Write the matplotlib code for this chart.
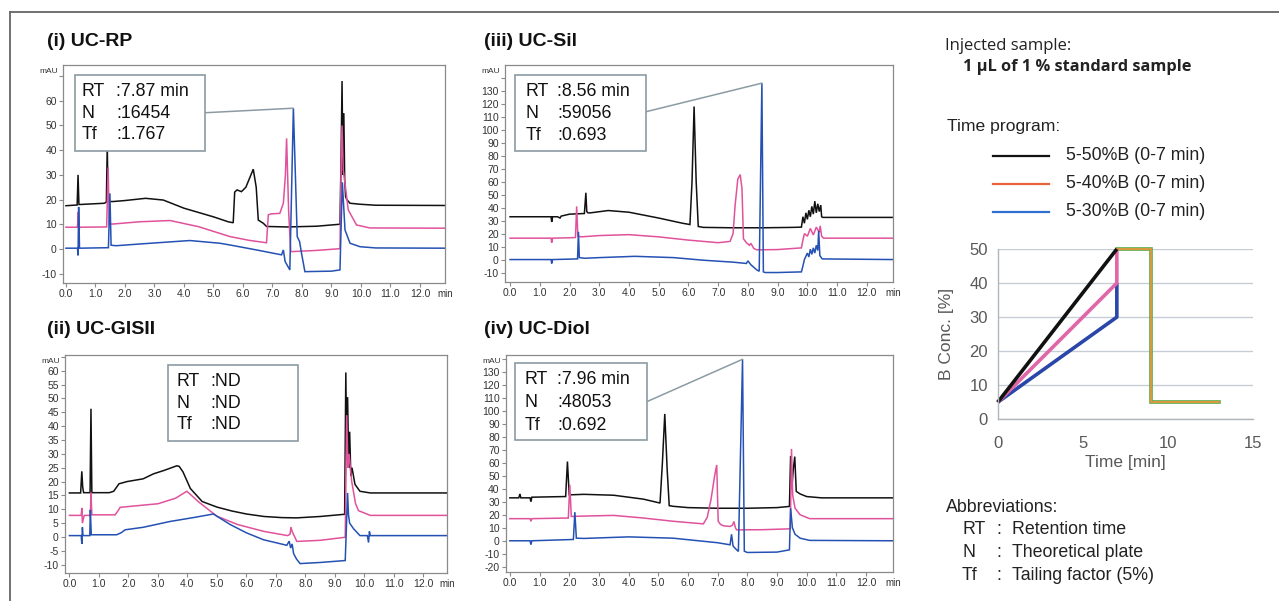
import matplotlib
matplotlib.use("Agg")
import matplotlib.pyplot as plt
from matplotlib.lines import Line2D
from matplotlib.patches import Rectangle
import numpy as np

plt.rcParams['font.family'] = ['Liberation Sans', 'DejaVu Sans']
plt.rcParams['axes.unicode_minus'] = False

W, H = 1279, 601

# ---------------- DATA ----------------
# (i) UC-RP
rp_t_black = [0.0, 0.38, 0.41, 0.44, 0.48, 1.30, 1.37, 1.40, 1.43, 1.46, 1.6, 2.0, 2.7, 3.3, 4.0, 5.0, 5.5, 5.67, 5.72, 5.80, 5.95, 6.1, 6.35, 6.45, 6.52, 6.69, 6.8, 7.5, 8.5, 9.29, 9.33, 9.36, 9.39, 9.42, 9.45, 9.48, 9.52, 9.63, 9.97, 10.5, 12.85]
rp_v_black = [17.5, 17.8, 30.0, 18.0, 18.0, 18.5, 19.0, 42.0, 19.5, 19.2, 19.2, 19.6, 20.5, 19.8, 16.5, 13.0, 11.0, 10.6, 23.0, 23.9, 23.2, 25.0, 32.3, 25.0, 11.7, 10.4, 9.1, 8.9, 9.2, 10.0, 40.0, 68.0, 30.0, 55.0, 28.0, 21.2, 20.0, 18.5, 18.1, 17.7, 17.6]
rp_t_pink = [0.0, 0.39, 0.42, 0.44, 0.48, 1.38, 1.43, 1.47, 1.6, 2.5, 3.53, 4.5, 5.56, 6.2, 6.8, 6.86, 6.95, 7.25, 7.37, 7.44, 7.48, 7.55, 7.62, 8.5, 9.29, 9.33, 9.36, 9.40, 9.46, 9.57, 9.85, 10.3, 12.85]
rp_v_pink = [8.8, 8.8, 15.0, 8.0, 8.8, 8.9, 33.0, 10.1, 10.1, 11.0, 11.5, 9.0, 5.0, 3.5, 2.5, 13.8, 14.2, 14.4, 18.5, 30.0, 44.8, 15.0, -1.1, -0.6, 0.1, 35.0, 50.0, 32.0, 26.6, 15.8, 9.7, 8.5, 8.4]
rp_t_blue = [0.0, 0.39, 0.41, 0.43, 0.46, 1.44, 1.49, 1.53, 1.7, 2.5, 4.2, 5.22, 5.56, 6.5, 7.31, 7.37, 7.43, 7.59, 7.71, 7.84, 7.92, 7.99, 8.1, 9.0, 9.29, 9.33, 9.37, 9.46, 9.63, 9.97, 10.5, 12.85]
rp_v_blue = [0.3, 0.3, -2.6, 17.0, 0.3, 0.5, 22.5, 1.5, 1.3, 2.0, 3.4, 2.3, 1.6, -0.5, -2.4, -0.4, -5.1, -8.5, 57.0, 5.0, 3.0, -2.0, -9.2, -9.0, -8.5, 10.0, 27.0, 7.7, 2.3, 0.9, 0.4, 0.3]

# (iii) UC-Sil
sil_t_black = [0.0, 1.38, 1.40, 1.43, 1.6, 1.68, 1.72, 2.0, 2.5, 2.55, 2.58, 2.62, 2.7, 3.3, 4.0, 5.0, 5.8, 6.05, 6.12, 6.19, 6.26, 6.33, 6.5, 7.5, 8.5, 9.5, 9.8, 9.85, 9.9, 9.95, 10.0, 10.05, 10.1, 10.15, 10.2, 10.25, 10.3, 10.35, 10.4, 10.45, 10.48, 10.52, 11.0, 12.9]
sil_v_black = [33.0, 33.0, 29.0, 33.0, 33.0, 32.0, 33.5, 35.0, 35.5, 51.5, 37.0, 36.0, 36.0, 37.8, 36.5, 32.0, 28.0, 27.0, 60.0, 118.0, 60.0, 25.5, 24.8, 24.5, 24.5, 24.8, 25.0, 33.0, 28.0, 36.0, 31.0, 38.0, 33.0, 41.0, 35.0, 45.0, 36.0, 43.0, 37.0, 42.0, 33.0, 32.5, 32.5, 32.5]
sil_t_pink = [0.0, 1.38, 1.40, 1.43, 2.0, 2.2, 2.24, 2.28, 2.4, 3.0, 4.0, 5.0, 6.0, 7.0, 7.4, 7.5, 7.57, 7.66, 7.74, 7.8, 7.85, 7.95, 8.05, 8.1, 8.2, 8.3, 9.0, 9.8, 9.85, 9.9, 10.0, 10.1, 10.2, 10.3, 10.4, 10.43, 10.48, 10.55, 12.9]
sil_v_pink = [16.5, 16.5, 13.0, 16.5, 16.8, 17.0, 41.0, 18.0, 17.5, 18.5, 19.2, 17.5, 15.0, 13.0, 14.0, 20.0, 42.0, 62.0, 65.5, 55.0, 16.0, 13.0, 11.0, 12.5, 8.5, 7.5, 7.7, 9.0, 15.0, 20.0, 18.0, 24.0, 19.0, 25.0, 21.0, 26.0, 18.0, 16.5, 16.5]
sil_t_blue = [0.0, 1.38, 1.40, 1.43, 2.27, 2.30, 2.33, 2.5, 3.0, 4.2, 5.5, 6.5, 7.5, 7.95, 8.0, 8.05, 8.1, 8.2, 8.3, 8.38, 8.47, 8.52, 8.58, 9.0, 9.8, 9.85, 9.9, 10.0, 10.05, 10.1, 10.15, 10.2, 10.25, 10.3, 10.35, 10.38, 10.42, 10.5, 12.9]
sil_v_blue = [0.0, 0.0, -3.0, 0.0, 0.5, 21.4, 1.5, 1.0, 1.5, 2.5, 1.5, -0.5, -2.0, -3.0, -1.0, -2.5, -4.0, -6.0, -8.0, -9.0, 136.0, -9.5, -10.0, -10.0, -9.5, -5.0, 0.0, 5.0, 2.0, 8.0, 4.0, 9.0, 5.0, 11.0, 7.0, 22.0, 3.0, 0.5, 0.0]

# (ii) UC-GISII
gis_t_black = [0.0, 0.38, 0.42, 0.45, 0.48, 0.52, 0.70, 0.73, 0.76, 1.35, 1.5, 1.6, 1.68, 1.95, 2.5, 2.85, 3.2, 3.64, 3.72, 3.85, 4.1, 4.5, 5.0, 5.5, 6.0, 6.6, 7.2, 7.7, 8.5, 9.33, 9.37, 9.40, 9.43, 9.47, 9.50, 9.54, 9.58, 9.68, 9.85, 10.2, 12.8]
gis_v_black = [15.9, 15.9, 23.7, 18.0, 16.0, 16.0, 16.0, 46.3, 16.0, 16.0, 16.5, 18.0, 19.2, 20.0, 21.0, 22.8, 24.0, 25.7, 25.5, 23.5, 17.5, 12.8, 10.8, 9.4, 8.3, 7.4, 7.0, 6.9, 7.4, 8.2, 59.4, 30.0, 50.5, 25.0, 38.0, 22.0, 25.0, 19.0, 16.5, 15.9, 15.9]
gis_t_pink = [0.0, 0.40, 0.42, 0.44, 0.50, 0.71, 0.73, 0.76, 1.55, 1.65, 1.72, 2.2, 3.0, 3.6, 3.98, 4.4, 5.0, 5.7, 6.6, 7.4, 7.48, 7.51, 7.55, 7.71, 8.5, 9.35, 9.40, 9.44, 9.48, 9.57, 9.70, 9.80, 10.2, 12.8]
gis_v_pink = [7.8, 7.8, 10.5, 5.0, 7.8, 7.8, 16.0, 8.0, 8.0, 9.5, 10.7, 11.2, 12.0, 14.0, 16.5, 12.5, 7.5, 4.5, 2.0, 0.5, 1.0, 3.6, 2.0, -1.6, -1.2, -0.1, 44.0, 25.0, 30.0, 20.0, 12.0, 9.5, 7.8, 7.8]
gis_t_blue = [0.0, 0.40, 0.42, 0.44, 0.46, 0.50, 0.69, 0.71, 0.74, 1.6, 1.75, 1.89, 2.5, 3.41, 4.2, 4.88, 5.45, 6.0, 6.58, 7.37, 7.45, 7.50, 7.55, 7.60, 7.70, 7.82, 8.5, 9.35, 9.43, 9.46, 9.50, 9.63, 9.85, 10.10, 10.14, 10.17, 10.20, 12.8]
gis_v_blue = [0.5, 0.5, -2.5, 3.5, 0.5, 0.5, 0.5, 9.8, 0.8, 0.8, 1.5, 2.6, 3.5, 5.6, 7.0, 8.3, 4.5, 1.5, -1.0, -3.0, -1.5, -4.0, -2.5, -6.0, -8.0, -9.6, -9.2, -8.5, 15.9, 8.0, 5.0, 3.0, 0.5, 0.5, -2.0, 2.0, 0.5, 0.5]

# (iv) UC-Diol
diol_t_black = [0.0, 0.30, 0.34, 0.37, 0.68, 0.71, 0.74, 1.88, 1.94, 2.0, 2.5, 3.5, 4.5, 5.06, 5.14, 5.22, 5.30, 5.37, 5.5, 6.0, 7.0, 8.0, 9.0, 9.42, 9.46, 9.50, 9.55, 9.60, 9.65, 9.78, 10.0, 10.5, 12.9]
diol_v_black = [33.0, 33.0, 36.0, 33.0, 33.0, 30.0, 33.5, 34.0, 60.9, 35.3, 35.7, 35.0, 32.0, 29.0, 60.0, 97.5, 55.0, 27.0, 26.5, 25.5, 25.0, 25.0, 25.5, 26.4, 65.2, 40.0, 55.0, 64.7, 38.0, 36.0, 34.0, 33.0, 33.0]
diol_t_pink = [0.0, 0.68, 0.71, 0.74, 1.97, 2.02, 2.07, 2.5, 3.5, 4.5, 5.5, 6.52, 6.65, 6.78, 6.90, 6.97, 7.02, 7.10, 7.20, 7.42, 7.50, 7.55, 7.60, 7.64, 8.5, 9.45, 9.49, 9.53, 9.61, 9.78, 10.1, 12.9]
diol_v_pink = [17.0, 17.0, 15.0, 17.0, 17.5, 43.0, 18.7, 19.0, 19.5, 17.5, 15.0, 13.0, 18.0, 32.0, 50.0, 58.3, 15.0, 12.5, 11.5, 11.0, 12.0, 14.8, 10.0, 8.4, 8.5, 9.2, 70.6, 35.0, 25.0, 20.0, 17.0, 17.0]
diol_t_blue = [0.0, 0.68, 0.71, 0.74, 2.14, 2.19, 2.24, 2.5, 4.0, 5.5, 7.0, 7.42, 7.47, 7.52, 7.60, 7.70, 7.84, 7.90, 8.0, 9.0, 9.42, 9.46, 9.52, 9.61, 9.78, 10.1, 12.9]
diol_v_blue = [0.0, 0.0, -3.0, 0.0, 1.0, 22.0, 2.0, 1.8, 3.0, 2.0, -1.5, -3.1, 5.0, -4.0, -6.0, -8.2, 139.5, -8.0, -9.0, -8.7, -7.0, 25.0, 10.0, 5.0, 2.0, 0.3, 0.0]

# callouts
rp_stats = ["7.87 min", "16454", "1.767"]
sil_stats = ["8.56 min", "59056", "0.693"]
gis_stats = ["ND", "ND", "ND"]
diol_stats = ["7.96 min", "48053", "0.692"]
stat_names = ["RT", "N", "Tf"]

# gradient program
grad_t_50 = [0, 7]
grad_b_50 = [5, 50]
grad_t_40 = [0, 7, 7]
grad_b_40 = [5, 40, 50]
grad_t_30 = [0, 7, 7]
grad_b_30 = [5, 30, 40]
hold_t = [7, 9, 9, 13]
hold_b = [50, 50, 5, 5]
legend_labels = ["5-50%B (0-7 min)", "5-40%B (0-7 min)", "5-30%B (0-7 min)"]

# ---------------- STYLE ----------------
C_BLACK = '#111111'
C_PINK = '#e0529c'
C_BLUE = '#2451b3'
C_BOX = '#8c9ba3'

fig = plt.figure(figsize=(W / 100, H / 100), dpi=100)


def fx(px):
    return px / W


def fy(py):
    return 1 - py / H


def chrom_panel(rect_px, xlim, ylim, yticks, traces, stats, box, rows, labx, colx, leader=None):
    x0, y0, x1, y1 = rect_px
    ax = fig.add_axes([fx(x0), fy(y1), (x1 - x0) / W, (y1 - y0) / H])
    for t, v, c in traces:
        ax.plot(t, v, color=c, lw=1.1, solid_joinstyle='miter')
    ax.set_xlim(*xlim)
    ax.set_ylim(*ylim)
    ax.set_xticks(np.arange(0, 13, 1.0))
    ax.set_xticklabels([f"{x:.1f}" for x in np.arange(0, 13, 1.0)])
    ax.set_yticks(yticks)
    ylabs = [f"{int(v)}" for v in yticks]
    ylabs[-1] = ''
    ax.set_yticklabels(ylabs)
    for s in ax.spines.values():
        s.set_color('#8a8a8a')
        s.set_linewidth(0.9)
    ax.tick_params(axis='both', labelsize=7.5, colors='#8a8a8a', labelcolor='#333333',
                   length=3, width=0.8, pad=1.5)
    ax.text(-0.012, 0.968, 'mAU', transform=ax.transAxes, ha='right', va='center',
            fontsize=6, color='#333333')
    ax.annotate('min', xy=(1.0, 0), xycoords='axes fraction', xytext=(0, -4.5),
                textcoords='offset points', ha='center', va='top', fontsize=7, color='#333333')
    bl, bb, br, bt = box
    ax.add_patch(Rectangle((bl, bb), br - bl, bt - bb, transform=ax.transAxes,
                           facecolor='white', edgecolor=C_BOX, lw=1.2, zorder=5))
    for name, val, ry in zip(stat_names, stats, rows):
        ax.text(labx, ry, name, transform=ax.transAxes, fontsize=12.8, va='center',
                ha='left', zorder=6, color='#111111')
        ax.text(colx, ry, ':' + val, transform=ax.transAxes, fontsize=12.8, va='center',
                ha='left', zorder=6, color='#111111')
    if leader is not None:
        (lx, ly), (px, py) = leader
        ax.annotate('', xy=(px, py), xycoords='data', xytext=(lx, ly),
                    textcoords='axes fraction',
                    arrowprops=dict(arrowstyle='-', color=C_BOX, lw=1.1,
                                    shrinkA=0, shrinkB=0), zorder=4)
    return ax


chrom_panel((63, 65, 445, 283), (-0.10, 12.85), (-13.8, 74.5), np.arange(-10, 71, 10),
            [(rp_t_black, rp_v_black, C_BLACK), (rp_t_pink, rp_v_pink, C_PINK),
             (rp_t_blue, rp_v_blue, C_BLUE)],
            rp_stats, (0.031, 0.607, 0.372, 0.954), (0.878, 0.778, 0.679), 0.049, 0.139,
            leader=((0.372, 0.781), (7.71, 57.0)))

chrom_panel((505, 65, 893, 282), (-0.17, 12.88), (-17.3, 150), np.arange(-10, 141, 10),
            [(sil_t_black, sil_v_black, C_BLACK), (sil_t_pink, sil_v_pink, C_PINK),
             (sil_t_blue, sil_v_blue, C_BLUE)],
            sil_stats, (0.026, 0.605, 0.364, 0.954), (0.877, 0.777, 0.677), 0.052, 0.135,
            leader=((0.364, 0.785), (8.47, 136.0)))

chrom_panel((65, 355, 447, 573), (-0.15, 12.8), (-13, 65.7), np.arange(-10, 66, 5),
            [(gis_t_black, gis_v_black, C_BLACK), (gis_t_pink, gis_v_pink, C_PINK),
             (gis_t_blue, gis_v_blue, C_BLUE)],
            gis_stats, (0.27, 0.607, 0.61, 0.954), (0.878, 0.778, 0.679), 0.292, 0.380)

chrom_panel((506, 355, 893, 572), (-0.13, 12.91), (-24, 142.8), np.arange(-20, 141, 10),
            [(diol_t_black, diol_v_black, C_BLACK), (diol_t_pink, diol_v_pink, C_PINK),
             (diol_t_blue, diol_v_blue, C_BLUE)],
            diol_stats, (0.023, 0.608, 0.364, 0.962), (0.885, 0.782, 0.677), 0.049, 0.133,
            leader=((0.364, 0.785), (7.84, 139.5)))

# titles
for txt, xp, yp in [("(i) UC-RP", 47, 42), ("(iii) UC-Sil", 484, 42),
                    ("(ii) UC-GISII", 47, 330), ("(iv) UC-Diol", 484, 330)]:
    fig.text(fx(xp), fy(yp), txt, fontsize=14, fontweight='bold', va='center', ha='left',
             color='#111111')

# figure frame (left and top)
fig.add_artist(Line2D([fx(9.5), fx(9.5)], [0, fy(12)], color='#666666', lw=1.3))
fig.add_artist(Line2D([fx(9.5), 1], [fy(12), fy(12)], color='#666666', lw=1.3))

# right-side texts
fig.text(fx(945), fy(46), "Injected sample:", fontsize=12, family='Open Sans',
         va='center', ha='left', color='#222222')
fig.text(fx(963), fy(67), "1 µL of 1 % standard sample", fontsize=11.8, family='Open Sans',
         fontweight='bold', va='center', ha='left', color='#222222')
fig.text(fx(947), fy(127), "Time program:", fontsize=12.6, va='center', ha='left',
         color='#222222')
leg_colors = ['#111111', '#e8643c', '#2e6fd0']
for lab, col, yp in zip(legend_labels, leg_colors, [156, 184, 211.7]):
    fig.add_artist(Line2D([fx(993), fx(1049)], [fy(yp), fy(yp)], color=col, lw=1.6))
    fig.text(fx(1066), fy(yp), lab, fontsize=12.8, va='center', ha='left', color='#222222')

fig.text(fx(946), fy(508), "Abbreviations:", fontsize=12.8, va='center', ha='left',
         color='#222222')
abbr = [("RT", "Retention time", 530), ("N", "Theoretical plate", 552.3),
        ("Tf", "Tailing factor (5%)", 575)]
for a, d, yp in abbr:
    fig.text(fx(962), fy(yp), a, fontsize=12.8, va='center', ha='left', color='#222222')
    fig.text(fx(996), fy(yp), ":", fontsize=12.8, va='center', ha='left', color='#222222')
    fig.text(fx(1012), fy(yp), d, fontsize=12.8, va='center', ha='left', color='#222222')

# gradient plot
gx0, gx1, gy0, gy1 = 997.7, 1253, 249, 419.3
gax = fig.add_axes([fx(gx0), fy(gy1), (gx1 - gx0) / W, (gy1 - gy0) / H])
gax.set_xlim(0, 15)
gax.set_ylim(0, 50)
gax.set_xticks([0, 5, 10, 15])
gax.set_yticks([0, 10, 20, 30, 40, 50])
gax.grid(axis='y', color='#c5ced6', lw=1.0)
gax.set_axisbelow(True)
for k in ['top', 'right']:
    gax.spines[k].set_visible(False)
for k in ['left', 'bottom']:
    gax.spines[k].set_color('#b0b6bb')
    gax.spines[k].set_linewidth(1.0)
gax.tick_params(axis='y', length=0, labelsize=12, labelcolor='#595959', pad=7)
gax.tick_params(axis='x', length=0, labelsize=12, labelcolor='#595959', pad=12)
gax.plot(hold_t, hold_b, color='#5aa845', lw=2.6, clip_on=False, solid_joinstyle='miter')
gax.plot(hold_t, hold_b, color='#f0963c', lw=1.2, clip_on=False, solid_joinstyle='miter')
gax.plot(grad_t_30, grad_b_30, color='#2946a8', lw=2.6, clip_on=False, solid_capstyle='butt')
gax.plot(grad_t_40, grad_b_40, color='#e066a8', lw=2.6, clip_on=False, solid_capstyle='butt')
gax.plot(grad_t_50, grad_b_50, color='#111111', lw=2.6, clip_on=False, solid_capstyle='butt')
gax.set_ylabel("B Conc. [%]", fontsize=12.5, color='#595959', labelpad=11)
gax.set_xlabel("Time [min]", fontsize=12.5, color='#595959', labelpad=3)

fig.savefig("out.png", dpi=100)
